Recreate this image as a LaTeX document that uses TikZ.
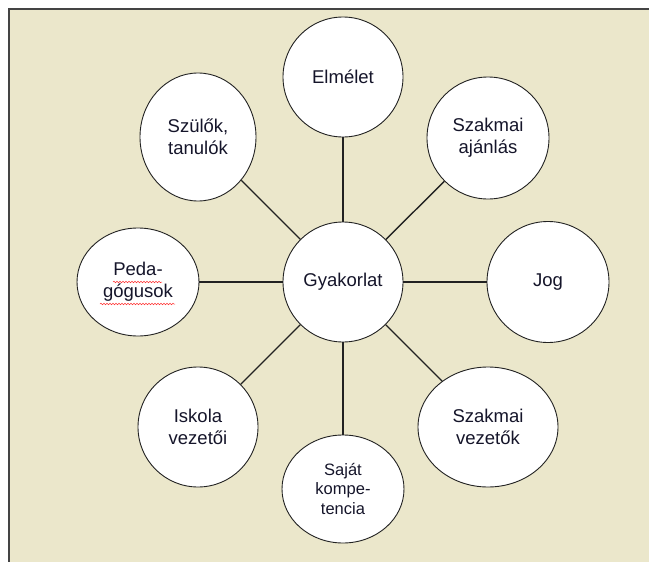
\documentclass[tikz,border=0pt]{standalone}
\usepackage{fontspec}
\setmainfont{Liberation Sans}
\usetikzlibrary{shapes.geometric,decorations.pathmorphing}
\definecolor{bg}{HTML}{EBE7CB}
\definecolor{frame}{HTML}{444444}
\definecolor{edge}{HTML}{222222}
\definecolor{ink}{HTML}{15152A}
\tikzset{
  bubble/.style={ellipse, draw=edge, line width=0.9pt, fill=white, inner sep=0pt,
    align=center, text=ink, font=\fontsize{18.5}{22}\selectfont},
  link/.style={draw=edge, line width=1.4pt},
  squiggle/.style={draw=red!80, line width=0.5pt, decorate,
    decoration={snake, amplitude=0.8pt, segment length=3pt}}
}
\begin{document}
\begin{tikzpicture}[x=1pt,y=-1pt]
\useasboundingbox (0,0) rectangle (649,562);
\fill[bg] (9,9) rectangle (649,562);
\draw[frame, line width=1.2pt] (9,562) -- (9,9) -- (649,9);

\node[bubble, minimum width=120, minimum height=120] (g) at (343,282) {Gyakorlat};
\node[bubble, minimum width=120, minimum height=120] (e) at (343,77) {Elmélet};
\node[bubble, minimum width=116, minimum height=128] (s) at (198,137) {Szülők,\\tanulók};
\node[bubble, minimum width=122, minimum height=122] (a) at (488,138) {Szakmai\\ajánlás};
\node[bubble, minimum width=122, minimum height=121] (j) at (548,282) {Jog};
\node[bubble, minimum width=122, minimum height=108] (p) at (138,282) {Peda-\\gógusok};
\node[bubble, minimum width=120, minimum height=120] (i) at (198,427) {Iskola\\vezetői};
\node[bubble, minimum width=122, minimum height=108, font=\fontsize{16.5}{19.5}\selectfont] (k) at (343,489) {Saját\\kompe-\\tencia};
\node[bubble, minimum width=140, minimum height=120] (v) at (488,427) {Szakmai\\vezetők};

\foreach \n in {e,s,a,j,p,i,k,v} \draw[link] (g) -- (\n);

\coordinate (q1) at (113,282);
\coordinate (q2) at (162,282);
\coordinate (q3) at (100,304);
\coordinate (q4) at (175,304);
\draw[squiggle] (q1) -- (q2);
\draw[squiggle] (q3) -- (q4);
\end{tikzpicture}
\end{document}
